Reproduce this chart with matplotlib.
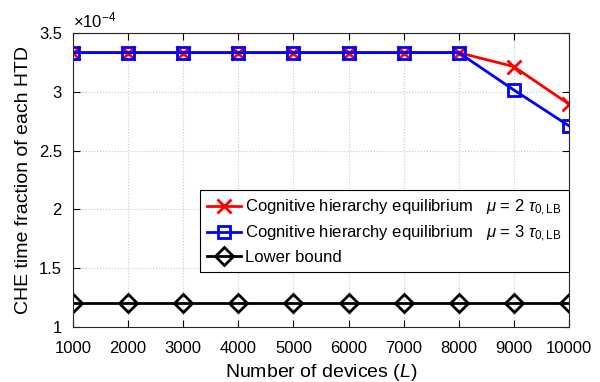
import numpy as np
import matplotlib
matplotlib.use("Agg")
import matplotlib.pyplot as plt

plt.rcParams['font.family'] = ['Liberation Sans', 'DejaVu Sans']
plt.rcParams['mathtext.fontset'] = 'custom'
plt.rcParams['mathtext.rm'] = 'Liberation Sans'
plt.rcParams['mathtext.it'] = 'Liberation Sans:italic'
plt.rcParams['mathtext.sf'] = 'Liberation Sans'

# data (values in units of 1e-4)
devices = [1000, 2000, 3000, 4000, 5000, 6000, 7000, 8000, 9000, 10000]
che_mu2 = [3.333, 3.333, 3.333, 3.333, 3.333, 3.333, 3.333, 3.333, 3.214, 2.895]
che_mu3 = [3.333, 3.333, 3.333, 3.333, 3.333, 3.333, 3.333, 3.333, 3.015, 2.710]
lower_bound = [1.20, 1.20, 1.20, 1.20, 1.20, 1.20, 1.20, 1.20, 1.20, 1.20]
y_ticks = [1, 1.5, 2, 2.5, 3, 3.5]
y_labels = ['1', '1.5', '2', '2.5', '3', '3.5']

fig = plt.figure(figsize=(6, 3.82), dpi=100)
ax = fig.add_axes([73/600, 1 - 327/382, (569-73)/600, (327-33)/382])

ax.plot(devices, che_mu2, '-x', color='red', lw=2, ms=10, mew=2,
        label=r'Cognitive hierarchy equilibrium   $\mu$ = 2 $\tau_{\mathsf{0,LB}}$')
ax.plot(devices, che_mu3, '-s', color='blue', lw=2, ms=9, mew=2, mfc='none',
        label=r'Cognitive hierarchy equilibrium   $\mu$ = 3 $\tau_{\mathsf{0,LB}}$')
ax.plot(devices, lower_bound, '-D', color='black', lw=2, ms=9, mew=2, mfc='none',
        label='Lower bound')

ax.set_xlim(1000, 10000)
ax.set_ylim(1, 3.5)
ax.set_xticks(devices)
ax.set_yticks(y_ticks)
ax.set_yticklabels(y_labels)
ax.tick_params(direction='in', top=True, right=True, labelsize=12, length=5, width=0.8)
ax.tick_params(axis='x', pad=10)
ax.tick_params(axis='y', pad=8)
ax.grid(True, linestyle=':', color='#c8c8c8', lw=0.8)
for s in ax.spines.values():
    s.set_linewidth(0.8)
    s.set_color('#262626')

ax.set_xlabel(r'Number of devices ($\it{L}$)', fontsize=14, va='baseline')
ax.xaxis.set_label_coords(0.5, (327 - 377) / 294)
ax.set_ylabel('CHE time fraction of each HTD', fontsize=14)
ax.yaxis.set_label_coords(-(73 - 32) / 496, 0.5)
ax.text(0.0, 1.01, r'$\times$10$^{\mathsf{-4}}$', transform=ax.transAxes, fontsize=12,
        va='bottom', ha='left')

leg = ax.legend(loc='lower right', bbox_to_anchor=(1.0, (327-272)/294), fontsize=12,
                fancybox=False, edgecolor='black', framealpha=1, borderpad=0.45,
                handlelength=2.0, labelspacing=0.33, handletextpad=0.25,
                borderaxespad=0.0)
leg.get_frame().set_linewidth(0.8)

fig.savefig('out.png', dpi=100)
